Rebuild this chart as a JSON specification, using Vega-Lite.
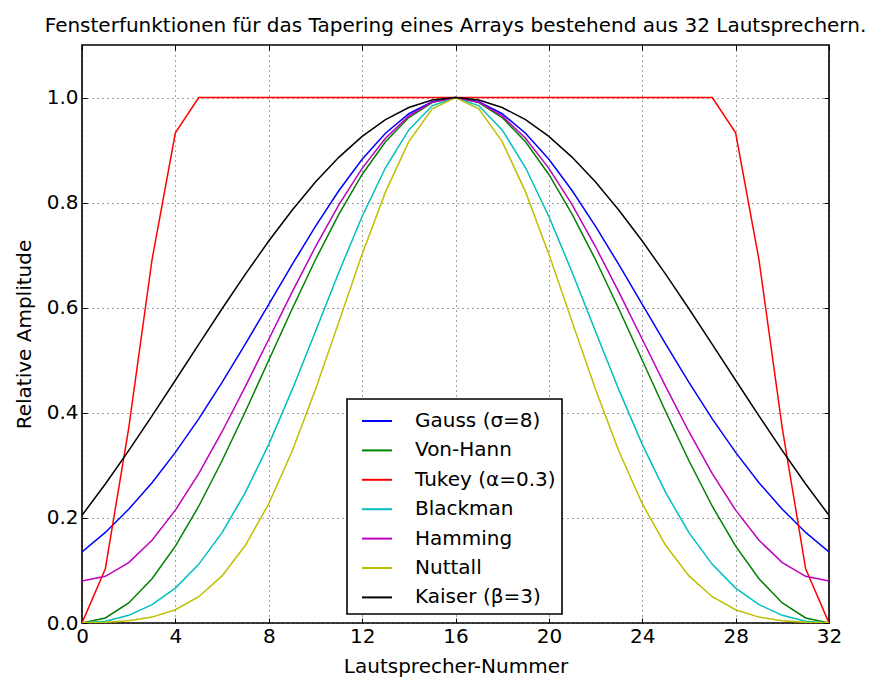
{
  "$schema": "https://vega.github.io/schema/vega-lite/v6.json",
  "autosize": {"type": "none"},
  "width": 747,
  "height": 578,
  "padding": {"left": 82, "top": 45, "right": 46, "bottom": 59},
  "background": "white",
  "title": {
    "text": "Fensterfunktionen für das Tapering eines Arrays bestehend aus 32 Lautsprechern.",
    "font": "DejaVu Sans",
    "fontSize": 20,
    "fontWeight": "normal",
    "color": "black",
    "anchor": "middle",
    "offset": 9
  },
  "config": {
    "font": "DejaVu Sans",
    "view": {"stroke": "black", "strokeWidth": 1.6},
    "axis": {
      "domain": false,
      "grid": true,
      "gridColor": "black",
      "gridDash": [1, 4],
      "gridWidth": 1,
      "gridOpacity": 0.75,
      "ticks": true,
      "tickColor": "black",
      "tickSize": -5,
      "tickWidth": 1,
      "labelFlush": false,
      "labelOverlap": false,
      "labelFont": "DejaVu Sans",
      "labelFontSize": 20,
      "labelColor": "black",
      "titleFont": "DejaVu Sans",
      "titleFontSize": 20,
      "titleFontWeight": "normal",
      "titleColor": "black"
    },
    "legend": {
      "orient": "none",
      "legendX": 265,
      "legendY": 354,
      "strokeColor": "black",
      "strokeWidth": 1.6,
      "fillColor": "white",
      "cornerRadius": 0,
      "padding": 6,
      "symbolType": "stroke",
      "symbolSize": 900,
      "symbolStrokeWidth": 2,
      "symbolOffset": 8,
      "labelFont": "DejaVu Sans",
      "labelFontSize": 20,
      "labelColor": "black",
      "labelOffset": 22,
      "rowPadding": 3.4,
      "title": null
    }
  },
  "data": {
    "values": [
      {"n": 0, "s": "Gauss (σ=8)", "v": 0.1353}, {"n": 1, "s": "Gauss (σ=8)", "v": 0.1724}, {"n": 2, "s": "Gauss (σ=8)", "v": 0.2163}, {"n": 3, "s": "Gauss (σ=8)", "v": 0.2671}, {"n": 4, "s": "Gauss (σ=8)", "v": 0.3247}, {"n": 5, "s": "Gauss (σ=8)", "v": 0.3886}, {"n": 6, "s": "Gauss (σ=8)", "v": 0.4578}, {"n": 7, "s": "Gauss (σ=8)", "v": 0.5311}, {"n": 8, "s": "Gauss (σ=8)", "v": 0.6065}, {"n": 9, "s": "Gauss (σ=8)", "v": 0.6819}, {"n": 10, "s": "Gauss (σ=8)", "v": 0.7548}, {"n": 11, "s": "Gauss (σ=8)", "v": 0.8226}, {"n": 12, "s": "Gauss (σ=8)", "v": 0.8825}, {"n": 13, "s": "Gauss (σ=8)", "v": 0.9321}, {"n": 14, "s": "Gauss (σ=8)", "v": 0.9692}, {"n": 15, "s": "Gauss (σ=8)", "v": 0.9922}, {"n": 16, "s": "Gauss (σ=8)", "v": 1.0}, {"n": 17, "s": "Gauss (σ=8)", "v": 0.9922}, {"n": 18, "s": "Gauss (σ=8)", "v": 0.9692}, {"n": 19, "s": "Gauss (σ=8)", "v": 0.9321}, {"n": 20, "s": "Gauss (σ=8)", "v": 0.8825}, {"n": 21, "s": "Gauss (σ=8)", "v": 0.8226}, {"n": 22, "s": "Gauss (σ=8)", "v": 0.7548}, {"n": 23, "s": "Gauss (σ=8)", "v": 0.6819}, {"n": 24, "s": "Gauss (σ=8)", "v": 0.6065}, {"n": 25, "s": "Gauss (σ=8)", "v": 0.5311}, {"n": 26, "s": "Gauss (σ=8)", "v": 0.4578}, {"n": 27, "s": "Gauss (σ=8)", "v": 0.3886}, {"n": 28, "s": "Gauss (σ=8)", "v": 0.3247}, {"n": 29, "s": "Gauss (σ=8)", "v": 0.2671}, {"n": 30, "s": "Gauss (σ=8)", "v": 0.2163}, {"n": 31, "s": "Gauss (σ=8)", "v": 0.1724}, {"n": 32, "s": "Gauss (σ=8)", "v": 0.1353},

      {"n": 0, "s": "Von-Hann", "v": 0.0}, {"n": 1, "s": "Von-Hann", "v": 0.0096}, {"n": 2, "s": "Von-Hann", "v": 0.0381}, {"n": 3, "s": "Von-Hann", "v": 0.0843}, {"n": 4, "s": "Von-Hann", "v": 0.1464}, {"n": 5, "s": "Von-Hann", "v": 0.2222}, {"n": 6, "s": "Von-Hann", "v": 0.3087}, {"n": 7, "s": "Von-Hann", "v": 0.4025}, {"n": 8, "s": "Von-Hann", "v": 0.5}, {"n": 9, "s": "Von-Hann", "v": 0.5975}, {"n": 10, "s": "Von-Hann", "v": 0.6913}, {"n": 11, "s": "Von-Hann", "v": 0.7778}, {"n": 12, "s": "Von-Hann", "v": 0.8536}, {"n": 13, "s": "Von-Hann", "v": 0.9157}, {"n": 14, "s": "Von-Hann", "v": 0.9619}, {"n": 15, "s": "Von-Hann", "v": 0.9904}, {"n": 16, "s": "Von-Hann", "v": 1.0}, {"n": 17, "s": "Von-Hann", "v": 0.9904}, {"n": 18, "s": "Von-Hann", "v": 0.9619}, {"n": 19, "s": "Von-Hann", "v": 0.9157}, {"n": 20, "s": "Von-Hann", "v": 0.8536}, {"n": 21, "s": "Von-Hann", "v": 0.7778}, {"n": 22, "s": "Von-Hann", "v": 0.6913}, {"n": 23, "s": "Von-Hann", "v": 0.5975}, {"n": 24, "s": "Von-Hann", "v": 0.5}, {"n": 25, "s": "Von-Hann", "v": 0.4025}, {"n": 26, "s": "Von-Hann", "v": 0.3087}, {"n": 27, "s": "Von-Hann", "v": 0.2222}, {"n": 28, "s": "Von-Hann", "v": 0.1464}, {"n": 29, "s": "Von-Hann", "v": 0.0843}, {"n": 30, "s": "Von-Hann", "v": 0.0381}, {"n": 31, "s": "Von-Hann", "v": 0.0096}, {"n": 32, "s": "Von-Hann", "v": 0.0},

      {"n": 0, "s": "Tukey (α=0.3)", "v": 0.0}, {"n": 1, "s": "Tukey (α=0.3)", "v": 0.1033}, {"n": 2, "s": "Tukey (α=0.3)", "v": 0.3706}, {"n": 3, "s": "Tukey (α=0.3)", "v": 0.6913}, {"n": 4, "s": "Tukey (α=0.3)", "v": 0.933}, {"n": 5, "s": "Tukey (α=0.3)", "v": 1.0}, {"n": 6, "s": "Tukey (α=0.3)", "v": 1.0}, {"n": 7, "s": "Tukey (α=0.3)", "v": 1.0}, {"n": 8, "s": "Tukey (α=0.3)", "v": 1.0}, {"n": 9, "s": "Tukey (α=0.3)", "v": 1.0}, {"n": 10, "s": "Tukey (α=0.3)", "v": 1.0}, {"n": 11, "s": "Tukey (α=0.3)", "v": 1.0}, {"n": 12, "s": "Tukey (α=0.3)", "v": 1.0}, {"n": 13, "s": "Tukey (α=0.3)", "v": 1.0}, {"n": 14, "s": "Tukey (α=0.3)", "v": 1.0}, {"n": 15, "s": "Tukey (α=0.3)", "v": 1.0}, {"n": 16, "s": "Tukey (α=0.3)", "v": 1.0}, {"n": 17, "s": "Tukey (α=0.3)", "v": 1.0}, {"n": 18, "s": "Tukey (α=0.3)", "v": 1.0}, {"n": 19, "s": "Tukey (α=0.3)", "v": 1.0}, {"n": 20, "s": "Tukey (α=0.3)", "v": 1.0}, {"n": 21, "s": "Tukey (α=0.3)", "v": 1.0}, {"n": 22, "s": "Tukey (α=0.3)", "v": 1.0}, {"n": 23, "s": "Tukey (α=0.3)", "v": 1.0}, {"n": 24, "s": "Tukey (α=0.3)", "v": 1.0}, {"n": 25, "s": "Tukey (α=0.3)", "v": 1.0}, {"n": 26, "s": "Tukey (α=0.3)", "v": 1.0}, {"n": 27, "s": "Tukey (α=0.3)", "v": 1.0}, {"n": 28, "s": "Tukey (α=0.3)", "v": 0.933}, {"n": 29, "s": "Tukey (α=0.3)", "v": 0.6913}, {"n": 30, "s": "Tukey (α=0.3)", "v": 0.3706}, {"n": 31, "s": "Tukey (α=0.3)", "v": 0.1033}, {"n": 32, "s": "Tukey (α=0.3)", "v": 0.0},

      {"n": 0, "s": "Blackman", "v": 0.0}, {"n": 1, "s": "Blackman", "v": 0.0035}, {"n": 2, "s": "Blackman", "v": 0.0146}, {"n": 3, "s": "Blackman", "v": 0.0349}, {"n": 4, "s": "Blackman", "v": 0.0664}, {"n": 5, "s": "Blackman", "v": 0.1116}, {"n": 6, "s": "Blackman", "v": 0.1721}, {"n": 7, "s": "Blackman", "v": 0.2485}, {"n": 8, "s": "Blackman", "v": 0.34}, {"n": 9, "s": "Blackman", "v": 0.4436}, {"n": 10, "s": "Blackman", "v": 0.5548}, {"n": 11, "s": "Blackman", "v": 0.6672}, {"n": 12, "s": "Blackman", "v": 0.7736}, {"n": 13, "s": "Blackman", "v": 0.8664}, {"n": 14, "s": "Blackman", "v": 0.9385}, {"n": 15, "s": "Blackman", "v": 0.9843}, {"n": 16, "s": "Blackman", "v": 1.0}, {"n": 17, "s": "Blackman", "v": 0.9843}, {"n": 18, "s": "Blackman", "v": 0.9385}, {"n": 19, "s": "Blackman", "v": 0.8664}, {"n": 20, "s": "Blackman", "v": 0.7736}, {"n": 21, "s": "Blackman", "v": 0.6672}, {"n": 22, "s": "Blackman", "v": 0.5548}, {"n": 23, "s": "Blackman", "v": 0.4436}, {"n": 24, "s": "Blackman", "v": 0.34}, {"n": 25, "s": "Blackman", "v": 0.2485}, {"n": 26, "s": "Blackman", "v": 0.1721}, {"n": 27, "s": "Blackman", "v": 0.1116}, {"n": 28, "s": "Blackman", "v": 0.0664}, {"n": 29, "s": "Blackman", "v": 0.0349}, {"n": 30, "s": "Blackman", "v": 0.0146}, {"n": 31, "s": "Blackman", "v": 0.0035}, {"n": 32, "s": "Blackman", "v": 0.0},

      {"n": 0, "s": "Hamming", "v": 0.08}, {"n": 1, "s": "Hamming", "v": 0.0888}, {"n": 2, "s": "Hamming", "v": 0.115}, {"n": 3, "s": "Hamming", "v": 0.1575}, {"n": 4, "s": "Hamming", "v": 0.2147}, {"n": 5, "s": "Hamming", "v": 0.2844}, {"n": 6, "s": "Hamming", "v": 0.364}, {"n": 7, "s": "Hamming", "v": 0.4503}, {"n": 8, "s": "Hamming", "v": 0.54}, {"n": 9, "s": "Hamming", "v": 0.6297}, {"n": 10, "s": "Hamming", "v": 0.716}, {"n": 11, "s": "Hamming", "v": 0.7956}, {"n": 12, "s": "Hamming", "v": 0.8653}, {"n": 13, "s": "Hamming", "v": 0.9225}, {"n": 14, "s": "Hamming", "v": 0.965}, {"n": 15, "s": "Hamming", "v": 0.9912}, {"n": 16, "s": "Hamming", "v": 1.0}, {"n": 17, "s": "Hamming", "v": 0.9912}, {"n": 18, "s": "Hamming", "v": 0.965}, {"n": 19, "s": "Hamming", "v": 0.9225}, {"n": 20, "s": "Hamming", "v": 0.8653}, {"n": 21, "s": "Hamming", "v": 0.7956}, {"n": 22, "s": "Hamming", "v": 0.716}, {"n": 23, "s": "Hamming", "v": 0.6297}, {"n": 24, "s": "Hamming", "v": 0.54}, {"n": 25, "s": "Hamming", "v": 0.4503}, {"n": 26, "s": "Hamming", "v": 0.364}, {"n": 27, "s": "Hamming", "v": 0.2844}, {"n": 28, "s": "Hamming", "v": 0.2147}, {"n": 29, "s": "Hamming", "v": 0.1575}, {"n": 30, "s": "Hamming", "v": 0.115}, {"n": 31, "s": "Hamming", "v": 0.0888}, {"n": 32, "s": "Hamming", "v": 0.08},

      {"n": 0, "s": "Nuttall", "v": 0.0004}, {"n": 1, "s": "Nuttall", "v": 0.0012}, {"n": 2, "s": "Nuttall", "v": 0.0042}, {"n": 3, "s": "Nuttall", "v": 0.0112}, {"n": 4, "s": "Nuttall", "v": 0.0252}, {"n": 5, "s": "Nuttall", "v": 0.05}, {"n": 6, "s": "Nuttall", "v": 0.0896}, {"n": 7, "s": "Nuttall", "v": 0.1479}, {"n": 8, "s": "Nuttall", "v": 0.227}, {"n": 9, "s": "Nuttall", "v": 0.3269}, {"n": 10, "s": "Nuttall", "v": 0.4444}, {"n": 11, "s": "Nuttall", "v": 0.5726}, {"n": 12, "s": "Nuttall", "v": 0.702}, {"n": 13, "s": "Nuttall", "v": 0.8205}, {"n": 14, "s": "Nuttall", "v": 0.9162}, {"n": 15, "s": "Nuttall", "v": 0.9784}, {"n": 16, "s": "Nuttall", "v": 1.0}, {"n": 17, "s": "Nuttall", "v": 0.9784}, {"n": 18, "s": "Nuttall", "v": 0.9162}, {"n": 19, "s": "Nuttall", "v": 0.8205}, {"n": 20, "s": "Nuttall", "v": 0.702}, {"n": 21, "s": "Nuttall", "v": 0.5726}, {"n": 22, "s": "Nuttall", "v": 0.4444}, {"n": 23, "s": "Nuttall", "v": 0.3269}, {"n": 24, "s": "Nuttall", "v": 0.227}, {"n": 25, "s": "Nuttall", "v": 0.1479}, {"n": 26, "s": "Nuttall", "v": 0.0896}, {"n": 27, "s": "Nuttall", "v": 0.05}, {"n": 28, "s": "Nuttall", "v": 0.0252}, {"n": 29, "s": "Nuttall", "v": 0.0112}, {"n": 30, "s": "Nuttall", "v": 0.0042}, {"n": 31, "s": "Nuttall", "v": 0.0012}, {"n": 32, "s": "Nuttall", "v": 0.0004},

      {"n": 0, "s": "Kaiser (β=3)", "v": 0.2049}, {"n": 1, "s": "Kaiser (β=3)", "v": 0.2646}, {"n": 2, "s": "Kaiser (β=3)", "v": 0.328}, {"n": 3, "s": "Kaiser (β=3)", "v": 0.3942}, {"n": 4, "s": "Kaiser (β=3)", "v": 0.462}, {"n": 5, "s": "Kaiser (β=3)", "v": 0.5303}, {"n": 6, "s": "Kaiser (β=3)", "v": 0.5981}, {"n": 7, "s": "Kaiser (β=3)", "v": 0.664}, {"n": 8, "s": "Kaiser (β=3)", "v": 0.7269}, {"n": 9, "s": "Kaiser (β=3)", "v": 0.7856}, {"n": 10, "s": "Kaiser (β=3)", "v": 0.8391}, {"n": 11, "s": "Kaiser (β=3)", "v": 0.8862}, {"n": 12, "s": "Kaiser (β=3)", "v": 0.9261}, {"n": 13, "s": "Kaiser (β=3)", "v": 0.9579}, {"n": 14, "s": "Kaiser (β=3)", "v": 0.9811}, {"n": 15, "s": "Kaiser (β=3)", "v": 0.9953}, {"n": 16, "s": "Kaiser (β=3)", "v": 1.0}, {"n": 17, "s": "Kaiser (β=3)", "v": 0.9953}, {"n": 18, "s": "Kaiser (β=3)", "v": 0.9811}, {"n": 19, "s": "Kaiser (β=3)", "v": 0.9579}, {"n": 20, "s": "Kaiser (β=3)", "v": 0.9261}, {"n": 21, "s": "Kaiser (β=3)", "v": 0.8862}, {"n": 22, "s": "Kaiser (β=3)", "v": 0.8391}, {"n": 23, "s": "Kaiser (β=3)", "v": 0.7856}, {"n": 24, "s": "Kaiser (β=3)", "v": 0.7269}, {"n": 25, "s": "Kaiser (β=3)", "v": 0.664}, {"n": 26, "s": "Kaiser (β=3)", "v": 0.5981}, {"n": 27, "s": "Kaiser (β=3)", "v": 0.5303}, {"n": 28, "s": "Kaiser (β=3)", "v": 0.462}, {"n": 29, "s": "Kaiser (β=3)", "v": 0.3942}, {"n": 30, "s": "Kaiser (β=3)", "v": 0.328}, {"n": 31, "s": "Kaiser (β=3)", "v": 0.2646}, {"n": 32, "s": "Kaiser (β=3)", "v": 0.2049}
    ]
  },
  "resolve": {"axis": {"x": "independent", "y": "independent"}},
  "layer": [
    {
      "mark": {"type": "line", "strokeWidth": 1.5, "clip": true},
      "encoding": {
        "x": {
          "field": "n",
          "type": "quantitative",
          "scale": {"domain": [0, 32], "nice": false, "zero": false},
          "axis": {
            "orient": "bottom",
            "title": "Lautsprecher-Nummer",
            "values": [0, 4, 8, 12, 16, 20, 24, 28, 32],
            "format": "d",
            "labelPadding": 8,
            "titlePadding": 10
          }
        },
        "y": {
          "field": "v",
          "type": "quantitative",
          "scale": {"domain": [0, 1.1], "nice": false, "zero": false},
          "axis": {
            "orient": "left",
            "title": "Relative Amplitude",
            "values": [0, 0.2, 0.4, 0.6, 0.8, 1.0],
            "format": ".1f",
            "labelPadding": 9,
            "titlePadding": 12
          }
        },
        "color": {
          "field": "s",
          "type": "nominal",
          "sort": null,
          "scale": {
            "domain": ["Gauss (σ=8)", "Von-Hann", "Tukey (α=0.3)", "Blackman", "Hamming", "Nuttall", "Kaiser (β=3)"],
            "range": ["#0000ff", "#008000", "#ff0000", "#00bfbf", "#bf00bf", "#bfbf00", "#000000"]
          },
          "legend": {"title": null}
        }
      }
    },
    {
      "mark": {"type": "point", "opacity": 0, "size": 1},
      "encoding": {
        "x": {
          "field": "n",
          "type": "quantitative",
          "scale": {"domain": [0, 32], "nice": false, "zero": false},
          "axis": {
            "orient": "top",
            "title": null,
            "labels": false,
            "grid": false,
            "values": [0, 4, 8, 12, 16, 20, 24, 28, 32]
          }
        },
        "y": {
          "field": "v",
          "type": "quantitative",
          "scale": {"domain": [0, 1.1], "nice": false, "zero": false},
          "axis": {
            "orient": "right",
            "title": null,
            "labels": false,
            "grid": false,
            "values": [0, 0.2, 0.4, 0.6, 0.8, 1.0]
          }
        }
      }
    }
  ]
}
